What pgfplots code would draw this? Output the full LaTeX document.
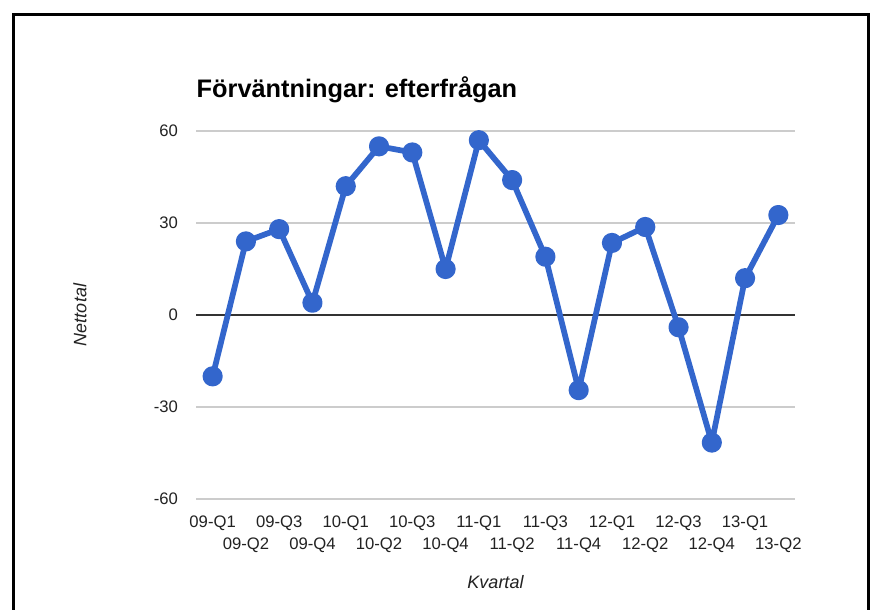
\documentclass[border=0pt]{standalone}
\usepackage{fontspec}
\setmainfont{Liberation Sans}
\usepackage{pgfplots}
\pgfplotsset{compat=1.18}
\definecolor{gblue}{HTML}{3366CC}
\definecolor{gridgray}{HTML}{CCCCCC}
\definecolor{zerogray}{HTML}{333333}
\definecolor{labgray}{HTML}{222222}

\begin{document}
\begin{tikzpicture}
% page = 875 x 610 px, 1px = 0.75pt
\path (0,0) rectangle (656.25pt,457.5pt);
% outer frame (left, top, right)
\draw[line width=2.25pt] (10.1pt,0) -- (10.1pt,446.6pt) -- (651pt,446.6pt) -- (651pt,0);

\node[anchor=west, font=\fontsize{19}{22}\selectfont\bfseries] at (144pt,390pt) {Förväntningar: efterfrågan};

\begin{axis}[
    at={(147pt,83.25pt)}, anchor=south west,
    scale only axis,
    width=449.25pt, height=276pt,
    xmin=-0.5, xmax=17.5,
    ymin=-60, ymax=60,
    ytick={-60,-30,0,30,60},
    xtick={0,...,17},
    xticklabels={\strut 09-Q1,{\strut\\09-Q2},\strut 09-Q3,{\strut\\09-Q4},
                 \strut 10-Q1,{\strut\\10-Q2},\strut 10-Q3,{\strut\\10-Q4},
                 \strut 11-Q1,{\strut\\11-Q2},\strut 11-Q3,{\strut\\11-Q4},
                 \strut 12-Q1,{\strut\\12-Q2},\strut 12-Q3,{\strut\\12-Q4},
                 \strut 13-Q1,{\strut\\13-Q2}},
    xticklabel style={anchor=north, align=center, yshift=-6pt,
        font=\fontsize{12.5}{16.5}\selectfont, text=labgray},
    yticklabel style={xshift=-10pt, font=\fontsize{12.5}{15}\selectfont, text=labgray},
    /pgf/number format/assume math mode=true,
    major tick length=0pt,
    axis line style={draw=none},
    ymajorgrids,
    grid style={gridgray, line width=0.9pt},
    extra y ticks={0},
    extra y tick labels={},
    extra y tick style={grid style={zerogray, line width=1.1pt}},
    xlabel={\itshape Kvartal},
    ylabel={\itshape Nettotal},
    xlabel style={at={(axis description cs:0.5,-0.2255)}, anchor=center,
        font=\fontsize{13.5}{16}\selectfont, text=labgray},
    ylabel style={at={(axis description cs:-0.1937,0.5)}, anchor=center,
        font=\fontsize{13.5}{16}\selectfont, text=labgray},
    clip=false,
]
\addplot[gblue, line width=4.3pt, line join=round, mark=*, mark size=5.4pt,
    mark options={solid, fill=gblue, draw=none}] coordinates {
  (0,-20) (1,24) (2,28) (3,4) (4,42) (5,55) (6,53) (7,15) (8,57)
  (9,44) (10,19) (11,-24.5) (12,23.5) (13,28.7) (14,-4) (15,-41.6)
  (16,12) (17,32.6)
};
\end{axis}
\end{tikzpicture}
\end{document}
